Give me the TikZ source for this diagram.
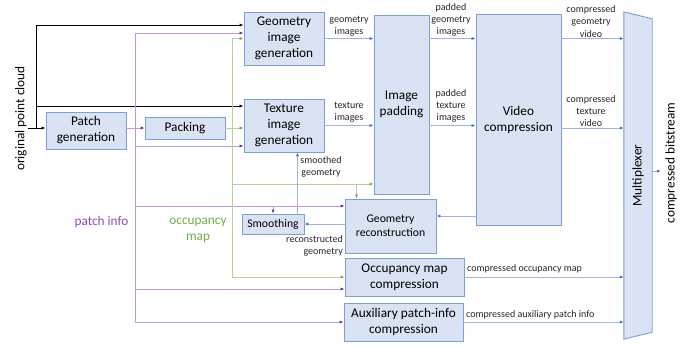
\documentclass[tikz,border=0pt]{standalone}
\usepackage{fontspec}
\setmainfont{Carlito}
\usetikzlibrary{arrows.meta}

\definecolor{boxfill}{HTML}{DAE3F3}
\definecolor{boxline}{HTML}{7E9ED8}
\definecolor{bluline}{HTML}{9DB5E0}
\definecolor{blutip}{HTML}{4472C4}
\definecolor{purline}{HTML}{BE9ADB}
\definecolor{purtip}{HTML}{7030A0}
\definecolor{purtext}{HTML}{8E4CC0}
\definecolor{grnline}{HTML}{B0D59A}
\definecolor{grntip}{HTML}{70AD47}

\tikzset{
    block/.style={draw=boxline, fill=boxfill, line width=0.9pt, align=center, inner sep=0pt,
        font=\fontsize{13.3}{16}\selectfont},
    lbl/.style={align=center, inner sep=0pt, font=\fontsize{10}{12.3}\selectfont, text=black!85},
    blu/.style={draw=bluline, line width=0.8pt, -{Latex[length=4pt,width=3.2pt,color=blutip]}},
    pur/.style={draw=purline, line width=0.8pt, -{Latex[length=4pt,width=3.2pt,color=purtip]}},
    grn/.style={draw=grnline, line width=0.8pt, -{Latex[length=4pt,width=3.2pt,color=grntip]}},
    blk/.style={draw=black, line width=0.8pt, -{Latex[length=4pt,width=3.2pt]}},
}

\begin{document}
\begin{tikzpicture}[x=1pt, y=-1pt]
        \useasboundingbox (0,0) rectangle (687,345);

        % blocks
        \node[block, minimum width=80, minimum height=37] at (86,130.5)(pgen){Patch\\generation};
        \node[block, minimum width=80, minimum height=22] at (185,128)(pack){Packing};
        \node[block, minimum width=80, minimum height=53] at (284,38.5)(gig){Geometry\\image\\generation};
        \node[block, minimum width=80, minimum height=53] at (284,125.5)(tig){Texture\\image\\generation};
        \node[block, minimum width=55, minimum height=179] at (401.5,104.5)(pad){Image\\padding};
        \node[block, minimum width=85, minimum height=211] at (518.5,119.5)(vid){Video\\compression};
        \node[block, minimum width=91, minimum height=54, font=\fontsize{11.7}{14}\selectfont] at (390.5,226)(grec){Geometry\\reconstruction};
        \node[block, minimum width=62, minimum height=20, font=\fontsize{11.7}{14}\selectfont] at (273,224)(smooth){Smoothing};
        \node[block, minimum width=119, minimum height=38] at (404.5,277)(omc){Occupancy map\\compression};
        \node[block, minimum width=119, minimum height=38] at (403.5,322)(apc){Auxiliary patch-info\\compression};

        % multiplexer
        \node[minimum width=28, minimum height=327, inner sep=0pt] at (638,175.5)(mux){};
        \draw[boxline, fill=boxfill, line width=0.9pt]
            (mux.north west) -- ([yshift=-7pt]mux.north east) -- ([yshift=7pt]mux.south east) -- (mux.south west) -- cycle;
        \node[rotate=90, font=\fontsize{13.3}{16}\selectfont] at (mux.center)(muxtxt){Multiplexer};

        % free texts
        \node[rotate=90, font=\fontsize{13.3}{16}\selectfont] at (21,118.5)(opc){original point cloud};
        \node[rotate=90, font=\fontsize{13.3}{16}\selectfont] at (671,163)(cbs){compressed bitstream};
        \node[anchor=east, text=purtext, font=\fontsize{13.3}{16}\selectfont] at (132,222)(pinfo){patch info};
        \node[align=center, text=grntip, font=\fontsize{13.3}{16}\selectfont] at (198,230)(omap){occupancy\\map};

        % coordinates
        \coordinate (in) at (28,128);
        \coordinate (bk) at (36,128);
        \coordinate (pv) at (135,128);
        \coordinate (gv) at (232,128);
        \coordinate (bs) at (661,171);
        \coordinate (padin) at ([yshift=-79.5pt]pad.west);

        % original point cloud
        \draw[blk] (in) -- (pgen.west |- in);
        \draw[blk] (bk) |- ([yshift=13.5pt]gig.west);
        \draw[blk] (bk) |- ([yshift=19.5pt]tig.west);

        % patch info
        \draw[pur] (pgen.east |- pack.west) -- (pack.west);
        \draw[pur] (pv) |- ([yshift=5.5pt]gig.west);
        \draw[pur] (pv) |- ([yshift=-20.5pt]tig.west);
        \draw[pur] (pv) |- ([yshift=20pt]grec.west);
        \draw[pur] ([yshift=20pt]grec.west -| smooth.north) -- (smooth.north);
        \draw[pur] (pv) |- ([yshift=-12pt]omc.west);
        \draw[pur] (pv) |- (apc.west);

        % occupancy map
        \draw[grn] (pack.east) -- (tig.west |- pack.east);
        \draw[grn] (gv) |- (gig.west);
        \draw[grn] (gv) |- (padin);
        \draw[grn] ([xshift=12pt]grec.north west |- padin) -- ([xshift=12pt]grec.north west);
        \draw[grn] (gv) |- (omc.west);

        % video path
        \draw[blu] (gig.east) -- (pad.west |- gig.east);
        \draw[blu] (tig.east) -- (pad.west |- tig.east);
        \draw[blu] (pad.east |- gig.east) -- (vid.west |- gig.east);
        \draw[blu] (pad.east |- tig.east) -- (vid.west |- tig.east);
        \draw[blu] (vid.east |- gig.east) -- (mux.west |- gig.east);
        \draw[blu] ([yshift=-2.5pt]vid.east |- tig.east) -- ([yshift=-2.5pt]mux.west |- tig.east);
        \draw[blu] ([yshift=10pt]grec.east -| vid.west) -- ([yshift=10pt]grec.east);
        \draw[blu] (grec.west |- smooth.east) -- (smooth.east);
        \draw[blu] ([xshift=-7pt]smooth.north east) -- ([xshift=-7pt]smooth.north east |- tig.south);
        \draw[blu] (omc.east) -- (mux.west |- omc.east);
        \draw[blu] (apc.east) -- (mux.west |- apc.east);
        \draw[blu] (mux.east |- bs) -- (bs);

        % connector labels
        \node[lbl] at (349,26)(l1){geometry\\images};
        \node[lbl] at (349,112)(l2){texture\\images};
        \node[lbl] at (451,20)(l3){padded\\geometry\\images};
        \node[lbl] at (451,106)(l4){padded\\texture\\images};
        \node[lbl] at (591,21.5)(l5){compressed\\geometry\\video};
        \node[lbl] at (591,111)(l6){compressed\\texture\\video};
        \node[lbl] at (321,167)(l7){smoothed\\geometry};
        \node[lbl, anchor=east, align=right] at (343,246)(l8){reconstructed\\geometry};
        \node[lbl, anchor=west] at (467,269)(l9){compressed occupancy map};
        \node[lbl, anchor=west] at (466,315)(l10){compressed auxiliary patch info};
    \end{tikzpicture}
\end{document}
